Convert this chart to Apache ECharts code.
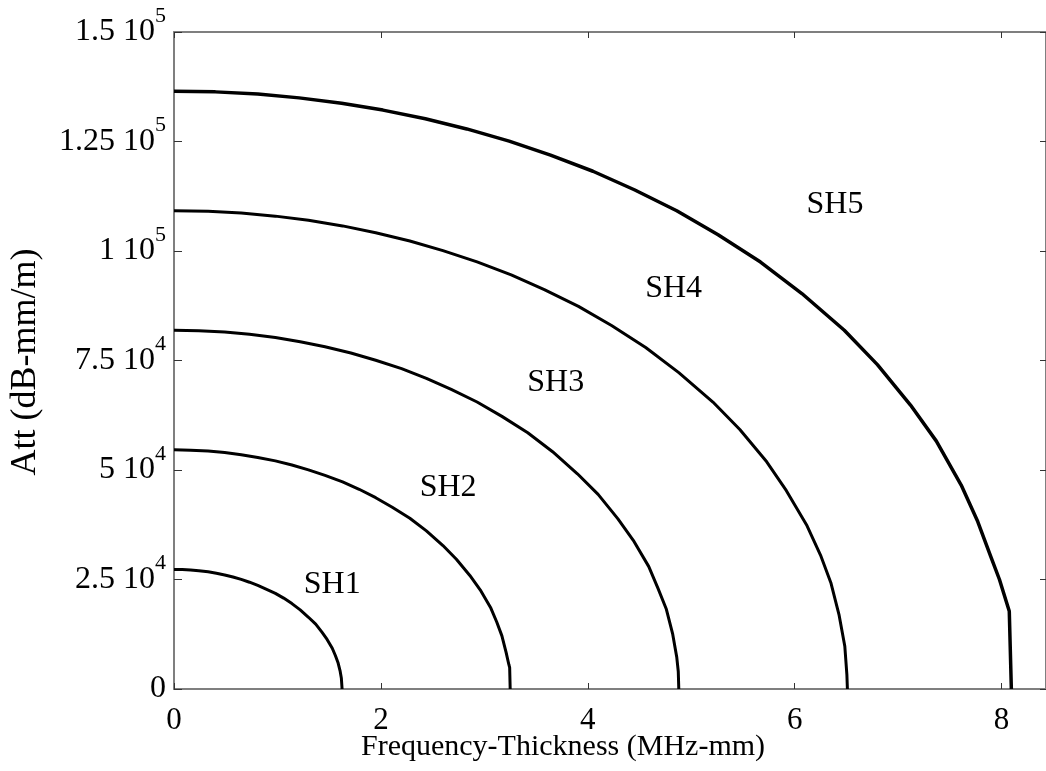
<!DOCTYPE html>
<html>
<head>
<meta charset="utf-8">
<style>
  html, body { margin: 0; padding: 0; background: #ffffff; }
  #chart { width: 1046px; height: 771px; }
</style>
<script src="https://cdn.jsdelivr.net/npm/echarts@6/dist/echarts.min.js"></script>
</head>
<body>
<div id="chart"></div>
<script>
// Attenuation of the SH modes below cut-off, plotted against frequency-thickness.
// Each mode: frequency-thickness (MHz-mm) and attenuation (dB-mm/m).
const sh1X = [0, 0.08, 0.16, 0.24, 0.33, 0.41, 0.49, 0.57, 0.65, 0.73, 0.81, 0.89, 0.98, 1.06, 1.14, 1.22, 1.30, 1.37, 1.43, 1.48, 1.53, 1.56, 1.585, 1.605, 1.618, 1.625];
const sh1Y = [27300, 27270, 27160, 26990, 26750, 26430, 26040, 25570, 25020, 24380, 23640, 22800, 21840, 20750, 19500, 18060, 16380, 14810, 12970, 11320, 9310, 7640, 6070, 4220, 2440, 0];

const sh2X = [0, 0.16, 0.33, 0.49, 0.65, 0.81, 0.98, 1.14, 1.30, 1.46, 1.63, 1.79, 1.95, 2.11, 2.28, 2.44, 2.60, 2.73, 2.86, 2.96, 3.06, 3.12, 3.17, 3.21, 3.237, 3.245, 3.25];
const sh2Y = [54600, 54530, 54330, 53980, 53500, 52870, 52080, 51150, 50040, 48760, 47290, 45600, 43680, 41490, 38990, 36110, 32760, 29630, 25930, 22640, 18630, 15290, 12130, 8430, 5600, 4900, 0];

const sh3X = [0, 0.24, 0.49, 0.73, 0.98, 1.22, 1.46, 1.71, 1.95, 2.20, 2.44, 2.68, 2.93, 3.17, 3.42, 3.66, 3.90, 4.10, 4.29, 4.44, 4.59, 4.68, 4.76, 4.82, 4.86, 4.875, 4.88];
const sh3Y = [81900, 81800, 81490, 80970, 80250, 79300, 78130, 76720, 75060, 73140, 70930, 68400, 65520, 62240, 58490, 54170, 49140, 44440, 38900, 33960, 27940, 22930, 18200, 12650, 7320, 4000, 0];

const sh4X = [0, 0.33, 0.65, 0.98, 1.30, 1.63, 1.95, 2.28, 2.60, 2.93, 3.26, 3.58, 3.91, 4.23, 4.56, 4.88, 5.21, 5.47, 5.73, 5.92, 6.12, 6.25, 6.35, 6.43, 6.485, 6.505, 6.51];
const sh4Y = [109200, 109060, 108650, 107960, 107000, 105730, 104170, 102290, 100080, 97520, 94570, 91200, 87360, 82990, 77980, 72230, 65520, 59250, 51870, 45280, 37260, 30580, 24260, 16860, 9760, 3300, 0];

const sh5X = [0, 0.40, 0.81, 1.21, 1.62, 2.02, 2.43, 2.83, 3.24, 3.64, 4.05, 4.45, 4.86, 5.26, 5.67, 6.07, 6.48, 6.80, 7.12, 7.37, 7.61, 7.77, 7.90, 7.98, 8.075, 8.095];
const sh5Y = [136500, 136330, 135820, 134960, 133740, 132170, 130210, 127870, 125100, 121900, 118210, 113990, 109200, 103730, 97480, 90290, 81900, 74060, 64830, 56590, 46570, 38220, 30000, 25000, 17750, 0];

// Mode names and where they sit (data coordinates)
const modeNames = ['SH1', 'SH2', 'SH3', 'SH4', 'SH5'];
const modeLabelX = [1.53, 2.65, 3.69, 4.83, 6.39];
const modeLabelY = [23840, 45960, 69940, 91340, 110520];

// Axis ticks and labels
const xTicks = [0, 2, 4, 6, 8];
const yTicks = [0, 25000, 50000, 75000, 100000, 125000, 150000];
const yTickMantissa = ['0', '2.5', '5', '7.5', '1', '1.25', '1.5'];
const yTickExponent = ['', '4', '4', '4', '5', '5', '5'];

const xName = 'Frequency-Thickness (MHz-mm)';
const yName = 'Att (dB-mm/m)';

const FONT = '"Liberation Serif", "Times New Roman", serif';
const AXIS_GREY = '#7f7f7f';

function pairs(xs, ys) {
  return xs.map((x, i) => [x, ys[i]]);
}

const curves = [pairs(sh1X, sh1Y), pairs(sh2X, sh2Y), pairs(sh3X, sh3Y), pairs(sh4X, sh4Y), pairs(sh5X, sh5Y)];

function yLabel(value) {
  const i = yTicks.indexOf(value);
  if (i < 0) return '';
  if (!yTickExponent[i]) return '{m|' + yTickMantissa[i] + '}';
  return '{m|' + yTickMantissa[i] + ' 10}{s|' + yTickExponent[i] + '}';
}

function xLabel(value) {
  return xTicks.indexOf(value) >= 0 ? String(value) : '';
}

const chart = echarts.init(document.getElementById('chart'), null, { renderer: 'canvas' });

// Tall line box for the mantissa so the exponent can ride up at the top of it
const yRich = {
  m: { fontSize: 32, fontFamily: FONT, color: '#000', lineHeight: 54 },
  s: { fontSize: 22, fontFamily: FONT, color: '#000', lineHeight: 22, verticalAlign: 'top' }
};

const option = {
  backgroundColor: '#ffffff',
  animation: false,
  grid: { left: 174, top: 32, right: 0, bottom: 82, containLabel: false },
  xAxis: [
    {
      type: 'value', position: 'bottom', min: 0, max: 8.43, interval: 2,
      axisLine: { show: true, onZero: false, lineStyle: { color: AXIS_GREY, width: 2 } },
      axisTick: { show: true, inside: true, length: 6, lineStyle: { color: '#333', width: 1 } },
      axisLabel: { formatter: xLabel, fontSize: 31, fontFamily: FONT, color: '#000', margin: 16, showMaxLabel: false },
      splitLine: { show: false }
    },
    {
      type: 'value', position: 'top', min: 0, max: 8.43, interval: 2,
      axisLine: { show: true, onZero: false, lineStyle: { color: AXIS_GREY, width: 2 } },
      axisTick: { show: true, inside: true, length: 6, lineStyle: { color: '#333', width: 1 } },
      axisLabel: { show: false },
      splitLine: { show: false }
    }
  ],
  yAxis: [
    {
      type: 'value', position: 'left', min: 0, max: 150000, interval: 25000,
      axisLine: { show: true, onZero: false, lineStyle: { color: AXIS_GREY, width: 2 } },
      axisTick: { show: true, inside: true, length: 8, lineStyle: { color: '#333', width: 1 } },
      axisLabel: { formatter: yLabel, rich: yRich, margin: 8, color: '#000' },
      splitLine: { show: false }
    },
    {
      type: 'value', position: 'right', min: 0, max: 150000, interval: 25000,
      axisLine: { show: true, onZero: false, lineStyle: { color: AXIS_GREY, width: 2 } },
      axisTick: { show: true, inside: true, length: 6, lineStyle: { color: '#333', width: 1 } },
      axisLabel: { show: false },
      splitLine: { show: false }
    }
  ],
  graphic: [
    {
      type: 'text', left: 361, top: 732,
      style: { text: xName, font: '30px ' + FONT, fill: '#000' }
    },
    {
      type: 'text', x: 8, y: 362, rotation: Math.PI / 2, originX: 0, originY: 0,
      style: { text: yName, font: '36px ' + FONT, fill: '#000', textAlign: 'center', textVerticalAlign: 'top' }
    }
  ],
  series: curves.map((data, i) => ({
    type: 'line',
    name: modeNames[i],
    data: data,
    showSymbol: false,
    symbol: 'none',
    lineStyle: { color: '#000', width: i === 4 ? 3.5 : 3, join: 'round' },
    z: 3
  })).concat([{
    type: 'scatter',
    symbolSize: 0,
    itemStyle: { color: '#000', opacity: 1 },
    data: modeNames.map((n, i) => [modeLabelX[i], modeLabelY[i], n]),
    label: {
      show: true, position: [0, 0], align: 'center', verticalAlign: 'middle',
      formatter: p => p.value[2],
      fontSize: 32, fontFamily: FONT, color: '#000', opacity: 1
    },
    silent: true,
    z: 4
  }])
};

chart.setOption(option);
</script>
</body>
</html>
